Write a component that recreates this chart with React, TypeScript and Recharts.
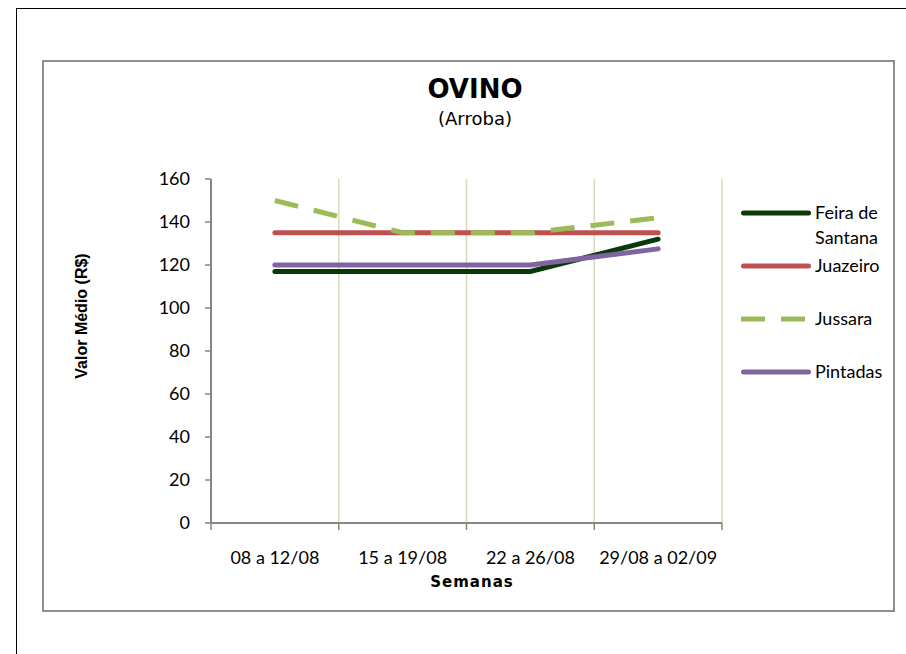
import React from "react";
import { LineChart, Line, XAxis, YAxis, CartesianGrid } from "recharts";

const categories = ["08 a 12/08", "15 a 19/08", "22 a 26/08", "29/08 a 02/09"];
const feiraDeSantana = [117, 117, 117, 132];
const juazeiro = [135, 135, 135, 135];
const jussara = [150, 135, 135, 142];
const pintadas = [120, 120, 120, 127.5];
const yTicks = [0, 20, 40, 60, 80, 100, 120, 140, 160];

const seriesNames = ["Feira de Santana", "Juazeiro", "Jussara", "Pintadas"];
const seriesKeys = ["feira", "juazeiro", "jussara", "pintadas"];
const seriesColors = ["#0a3a0a", "#c0504d", "#9bbb59", "#8064a2"];
const seriesDash = [undefined, undefined, "24 16", undefined];

const data = categories.map((c, i) => ({
  x: i + 0.5,
  cat: c,
  feira: feiraDeSantana[i],
  juazeiro: juazeiro[i],
  jussara: jussara[i],
  pintadas: pintadas[i],
}));

const gridTicks = categories.map((_, i) => i).concat([categories.length]);
const labelTicks = categories.map((_, i) => i + 0.5);

const axisColor = "#868686";
const tickFont = { fontFamily: "Lato", fontSize: 18, fill: "#000" };

const EmptyTick = () => <g />;

export default function App() {
  return (
    <div
      style={{
        position: "absolute",
        left: 0,
        top: 0,
        width: 906,
        height: 654,
        overflow: "hidden",
        background: "#fff",
      }}
    >
      <div
        style={{
          position: "absolute",
          left: 16,
          top: 8,
          width: 900,
          height: 660,
          borderTop: "1px solid #000",
          borderLeft: "1px solid #000",
        }}
      />
      <div
        style={{
          position: "absolute",
          left: 42,
          top: 60,
          width: 853,
          height: 552,
          boxSizing: "border-box",
          border: "2px solid #8e8e8e",
        }}
      />
      <div
        style={{
          position: "absolute",
          left: 375,
          width: 200,
          top: 73,
          textAlign: "center",
          fontFamily: "DejaVu Sans",
          fontWeight: "bold",
          fontSize: 26,
          lineHeight: "32px",
          color: "#000",
        }}
      >
        OVINO
      </div>
      <div
        style={{
          position: "absolute",
          left: 375,
          width: 200,
          top: 107,
          textAlign: "center",
          fontFamily: "DejaVu Sans",
          fontSize: 18,
          lineHeight: "24px",
          color: "#000",
        }}
      >
        (Arroba)
      </div>
      <div
        style={{
          position: "absolute",
          left: 372,
          width: 200,
          top: 572,
          textAlign: "center",
          fontFamily: "DejaVu Sans",
          fontWeight: "bold",
          fontSize: 15,
          letterSpacing: 1,
          lineHeight: "20px",
          color: "#000",
        }}
      >
        Semanas
      </div>
      <div
        style={{
          position: "absolute",
          left: 82 - 100,
          top: 316 - 11,
          width: 200,
          height: 22,
          lineHeight: "22px",
          textAlign: "center",
          transform: "rotate(-90deg)",
          fontFamily: "Liberation Sans",
          fontWeight: "bold",
          fontSize: 16,
          color: "#000",
        }}
      >
        Valor Médio (R$)
      </div>

      <div style={{ position: "absolute", left: 0, top: 0 }}>
        <LineChart
          width={906}
          height={654}
          data={data}
          margin={{ top: 179, right: 184, bottom: 100, left: 151 }}
        >
          <CartesianGrid
            xAxisId="grid"
            horizontal={false}
            vertical={true}
            stroke="#dcd8c0"
            strokeWidth={1.5}
          />
          <XAxis
            xAxisId="grid"
            type="number"
            dataKey="x"
            domain={[0, categories.length]}
            ticks={gridTicks}
            interval={0}
            tick={EmptyTick}
            height={1}
            tickSize={7}
            axisLine={{ stroke: axisColor, strokeWidth: 2 }}
            tickLine={{ stroke: axisColor, strokeWidth: 1.5 }}
          />
          <XAxis
            xAxisId="lab"
            type="number"
            dataKey="x"
            domain={[0, categories.length]}
            ticks={labelTicks}
            tickFormatter={(v: number) => categories[Math.floor(v)]}
            axisLine={false}
            tickLine={false}
            tickSize={0}
            tickMargin={27}
            height={30}
            interval={0}
            tick={tickFont}
          />
          <YAxis
            type="number"
            domain={[0, 160]}
            ticks={yTicks}
            width={60}
            tickSize={6}
            tickMargin={15}
            interval={0}
            axisLine={{ stroke: axisColor, strokeWidth: 2 }}
            tickLine={{ stroke: axisColor, strokeWidth: 1.5 }}
            tick={tickFont}
          />
          {seriesKeys.map((k, i) => (
            <Line
              key={k}
              xAxisId="grid"
              type="linear"
              dataKey={k}
              name={seriesNames[i]}
              stroke={seriesColors[i]}
              strokeWidth={5}
              strokeDasharray={seriesDash[i]}
              strokeLinecap={seriesDash[i] ? "butt" : "round"}
              dot={false}
              activeDot={false}
              isAnimationActive={false}
            />
          ))}
        </LineChart>
      </div>

      <div style={{ position: "absolute", left: 741, top: 200 }}>
        {seriesNames.map((n, i) => (
          <div key={n} style={{ position: "relative", height: 53 }}>
            <svg
              width={70}
              height={10}
              style={{ position: "absolute", left: 0, top: 8 }}
            >
              <line
                x1={seriesDash[i] ? 0 : 2.5}
                x2={seriesDash[i] ? 70 : 67.5}
                y1={5}
                y2={5}
                stroke={seriesColors[i]}
                strokeWidth={5}
                strokeDasharray={seriesDash[i]}
                strokeLinecap={seriesDash[i] ? "butt" : "round"}
              />
            </svg>
            <div
              style={{
                position: "absolute",
                left: 74,
                top: 0,
                width: 78,
                fontFamily: "Lato",
                fontSize: 18,
                lineHeight: "25px",
                color: "#000",
              }}
            >
              {n}
            </div>
          </div>
        ))}
      </div>
    </div>
  );
}
